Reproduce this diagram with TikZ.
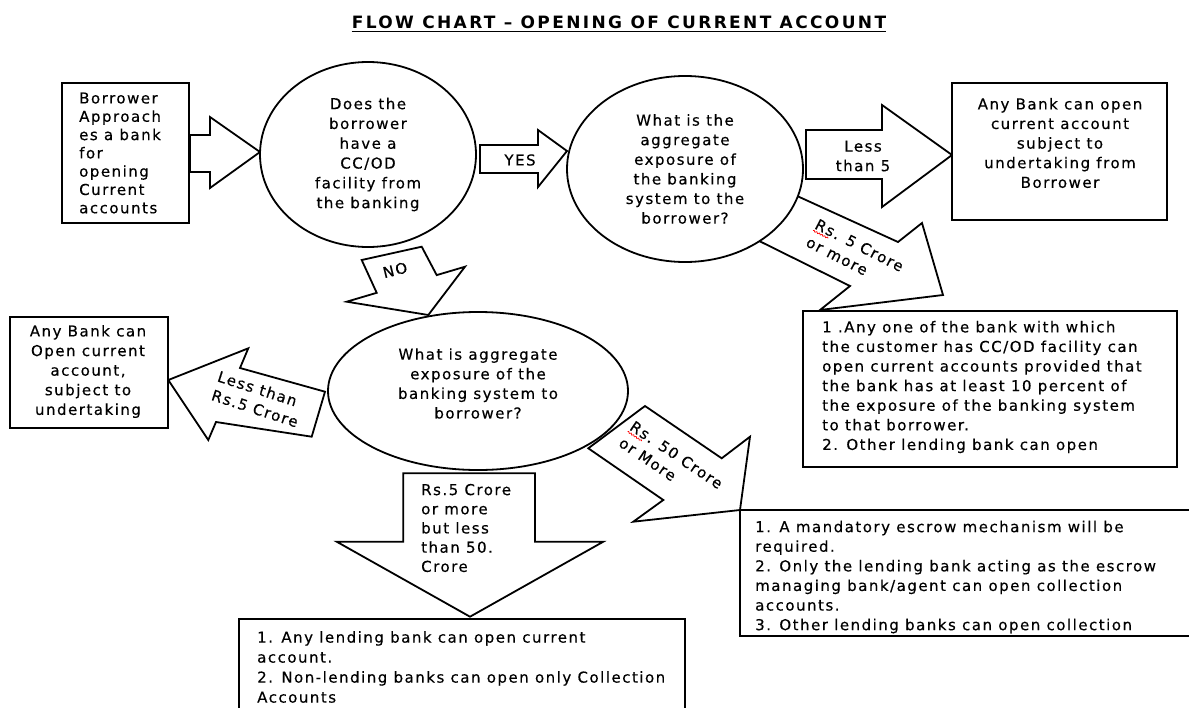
\documentclass[tikz,border=0pt]{standalone}
\usepackage{fontspec}
\usetikzlibrary{shapes.geometric, decorations.pathmorphing}
\setmainfont{DejaVu Sans}
\newfontfamily\bodyf{DejaVu Sans}[LetterSpace=10, FakeBold=0.4]
\newfontfamily\titlef{DejaVu Sans Bold}[LetterSpace=14]

\tikzset{
  outline/.style={draw=black, line width=1.8pt, fill=white, line join=miter, miter limit=20},
  box/.style={draw=black, line width=2.2pt, fill=white, rectangle, inner sep=0pt},
  oval/.style={draw=black, line width=1.8pt, fill=white, ellipse, inner sep=0pt},
  txt/.style={font=\bodyf\fontsize{15}{19.6}\selectfont, inner sep=0pt},
  spell/.style={draw=red, line width=0.7pt, decorate, decoration={snake, amplitude=0.7pt, segment length=3pt}},
}

\begin{document}
\begin{tikzpicture}[x=1pt,y=-1pt]
\useasboundingbox (0,0) rectangle (1189,707);
\fill[white] (0,0) rectangle (1189,707);
\clip (0,0) rectangle (1189,707);

% title
\node[font=\titlef\fontsize{17}{19}\selectfont, anchor=base, inner sep=0pt] (title) at (619,28.5) {FLOW CHART – OPENING OF CURRENT ACCOUNT};
\draw[line width=1.3pt] ([yshift=-3pt]title.base west) -- ([yshift=-3pt]title.base east);

% block arrows (shapes)
\draw[outline] (190,135) -- (210,135) -- (210,117) -- (260,152) -- (210,188) -- (210,172) -- (190,172) -- cycle;
\draw[outline] (480,145) -- (538,145) -- (538,130) -- (567,151) -- (538,187) -- (538,173) -- (480,173) -- cycle;
\draw[outline] (806,130) -- (882,130) -- (882,105) -- (952,155) -- (882,207) -- (882,179) -- (806,179) -- cycle;
\draw[outline] (773,185) -- (898,242) -- (922,223) -- (943,295) -- (820,310) -- (850,286) -- (735,229) -- cycle;
\draw[outline] (361.7,260) -- (421.7,246.7) -- (436.7,275.1) -- (465,266.7) -- (428.3,315) -- (346.7,301.7) -- (376.7,292.8) -- cycle;
\draw[outline] (168.3,380) -- (248.3,348.3) -- (240,368) -- (325,391.7) -- (311.7,436.7) -- (216,422) -- (208.3,440) -- cycle;
\draw[outline] (645,406) -- (721.7,458.3) -- (750,436.7) -- (740,510) -- (633.3,521.7) -- (663.3,500) -- (588.3,448.3) -- cycle;
\draw[outline] (403.3,473.3) -- (535,473.3) -- (535,541.7) -- (603.3,541.7) -- (470,616.7) -- (336.7,541.7) -- (403.3,541.7) -- cycle;

% boxes
\node[box, minimum width=127pt, minimum height=140pt] (boxA) at (125.5,153) {};
\node[txt, align=left, anchor=west, font=\bodyf\fontsize{15}{18.3}\selectfont] (boxAt) at (79,153) {Borrower\\Approach\\es a bank\\for\\opening\\Current\\accounts};
\node[box, minimum width=215pt, minimum height=137pt] (boxB) at (1059.5,151.5) {};
\node[txt, align=center] (boxBt) at (1060,143) {Any Bank can open\\current account\\subject to\\undertaking from\\Borrower};
\node[box, minimum width=374pt, minimum height=156pt] (boxC) at (990,389) {};
\node[txt, align=left, anchor=west] (boxCt) at (822,387) {1 .Any one of the bank with which\\the customer has CC/OD facility can\\open current accounts provided that\\the bank has at least 10 percent of\\the exposure of the banking system\\to that borrower.\\2. Other lending bank can open};
\node[box, minimum width=158pt, minimum height=111pt] (boxD) at (89,372.5) {};
\node[txt, align=center] (boxDt) at (88,371.5) {Any Bank can\\Open current\\account,\\subject to\\undertaking};
\node[box, minimum width=460pt, minimum height=126pt] (boxE) at (970,573) {};
\begin{scope}
\clip (741,511) rectangle (1189,634.9);
\node[txt, align=left, anchor=west] (boxEt) at (755,577) {1. A mandatory escrow mechanism will be\\required.\\2. Only the lending bank acting as the escrow\\managing bank/agent can open collection\\accounts.\\3. Other lending banks can open collection};
\end{scope}
\node[box, minimum width=445.7pt, minimum height=110pt] (boxF) at (462.15,674.3) {};
\node[txt, align=left, anchor=west, font=\bodyf\fontsize{15}{20}\selectfont] (boxFt) at (257,667) {1. Any lending bank can open current\\account.\\2. Non-lending banks can open only Collection\\Accounts};

% decision ovals
\node[oval, minimum width=216pt, minimum height=185pt, align=center, font=\bodyf\fontsize{15}{19.8}\selectfont] (c1) at (368,154.5) {Does the\\borrower\\have a\\CC/OD\\facility from\\the banking};
\node[oval, minimum width=236pt, minimum height=186pt, align=center, font=\bodyf\fontsize{15}{19.6}\selectfont] (c2) at (685,169) {What is the\\aggregate\\exposure of\\the banking\\system to the\\borrower?};
\node[oval, minimum width=300pt, minimum height=158pt] (c3) at (478,391) {};
\node[txt, align=center] (c3t) at (478,383.5) {What is aggregate\\exposure of the\\banking system to\\borrower?};

% arrow labels
\node[txt] (yes) at (520,160) {YES};
\node[txt, align=center] (less5) at (863,156) {Less\\than 5};
\node[txt, align=left, rotate=-27] (rs5) at (855,254) {Rs. 5 Crore\\or more};
\begin{scope}[shift={(rs5.north west)}, rotate=-27]
\draw[spell] (0.5,13.8) -- (17.5,13.8);
\end{scope}
\node[txt, rotate=14] (no) at (395,270) {NO};
\node[txt, align=left, rotate=-18] (lessrs5) at (258,399) {Less than\\Rs.5 Crore};
\node[txt, align=left, rotate=-34] (rs50) at (671,463) {Rs. 50 Crore\\or More};
\begin{scope}[shift={(rs50.north west)}, rotate=-34]
\draw[spell] (0.5,13.8) -- (17.5,13.8);
\end{scope}
\node[txt, align=left, anchor=west, font=\bodyf\fontsize{15}{19.2}\selectfont] (mid) at (421,528) {Rs.5 Crore\\or more\\but less\\than 50.\\Crore};
\end{tikzpicture}
\end{document}
